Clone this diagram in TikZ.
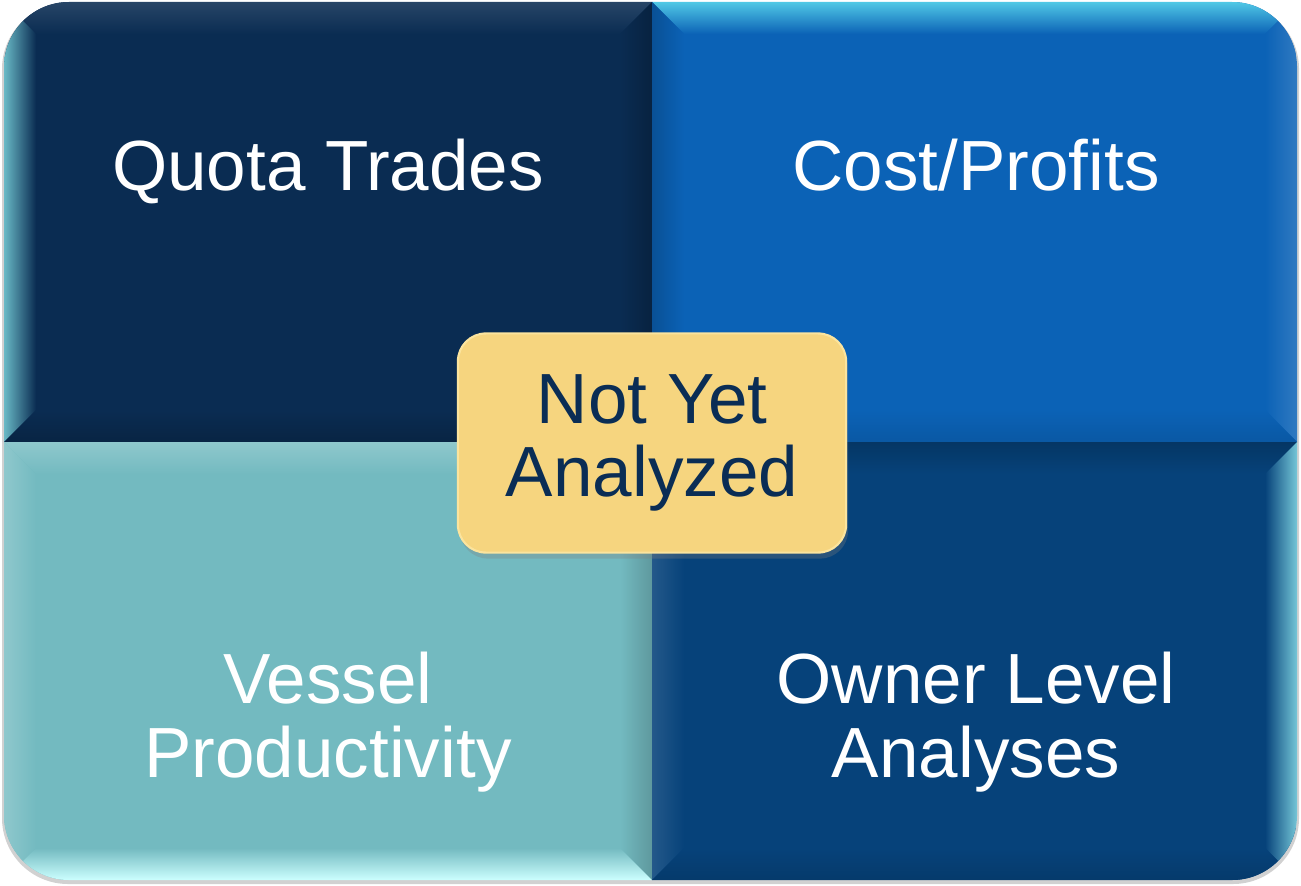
\documentclass[tikz,border=0pt]{standalone}
\usepackage{fontspec}
\setmainfont{Liberation Sans}
\usetikzlibrary{shadows}
\definecolor{qtbase}{HTML}{0A2C52}
\definecolor{cpbase}{HTML}{0B62B6}
\definecolor{vpbase}{HTML}{73BAC0}
\definecolor{olbase}{HTML}{06427A}
\definecolor{nyfill}{HTML}{F6D57F}
\definecolor{nyrim}{HTML}{FBE49E}
\definecolor{nytext}{HTML}{0A2D55}
\newcommand{\tile}[9]{%
  \fill[#5] (#1,#2) rectangle (#3,#4);
  \shade[top color=#6,bottom color=#5] (#1,#2) -- (#3,#2) -- (#3-32,#2+32) -- (#1+32,#2+32) -- cycle;
  \shade[left color=#7,right color=#5] (#1,#2) -- (#1+32,#2+32) -- (#1+32,#4-32) -- (#1,#4) -- cycle;
  \shade[left color=#5,right color=#8] (#3,#2) -- (#3,#4) -- (#3-32,#4-32) -- (#3-32,#2+32) -- cycle;
  \shade[top color=#5,bottom color=#9] (#1,#4) -- (#1+32,#4-32) -- (#3-32,#4-32) -- (#3,#4) -- cycle;
}
\tikzset{
  quadlabel/.style={text=white, align=center, font=\fontsize{20.2}{21}\selectfont},
  notyetbox/.style={fill=nyfill, draw=nyrim, line width=0.6pt, rounded corners=0.28cm,
    minimum width=3.88cm, minimum height=2.19cm, align=center, text=nytext,
    font=\fontsize{20.2}{21}\selectfont,
    drop shadow={opacity=0.3, shadow xshift=0.02cm, shadow yshift=-0.06cm}}
}
\begin{document}
\begin{tikzpicture}[x=0.01cm, y=-0.01cm]
  \useasboundingbox (0,0) rectangle (1301,885);
  \fill[black!18, rounded corners=0.66cm] (2,3) rectangle (1299,884);
  \begin{scope}
    \clip[rounded corners=0.65cm] (4,2) rectangle (1297,880);
    \tile{4}{2}{652}{442}{qtbase}{qtbase!88!white}{qtbase!55!cyan!60!white}{qtbase!78!black}{qtbase!82!black}
    \tile{652}{2}{1297}{442}{cpbase}{cpbase!50!cyan!70!white}{cpbase!82!black}{cpbase!85!white}{cpbase!90!black}
    \tile{4}{442}{652}{880}{vpbase}{vpbase!80!white}{vpbase!80!white}{vpbase!82!black}{cyan!20!white}
    \tile{652}{442}{1297}{880}{olbase}{olbase!82!black}{olbase!88!white}{olbase!55!cyan!55!white}{olbase!88!black}
  \end{scope}
  \node[quadlabel, anchor=base] (quota) at (328,190) {Quota Trades};
  \node[quadlabel, anchor=base] (cost) at (976,190) {Cost/Profits};
  \node[quadlabel] (vessel) at (328,722) {Vessel\\Productivity};
  \node[quadlabel] (owner) at (976,722) {Owner Level\\Analyses};
  \node[notyetbox] (notyet) at (652,443) {Not Yet\\Analyzed};
\end{tikzpicture}
\end{document}
